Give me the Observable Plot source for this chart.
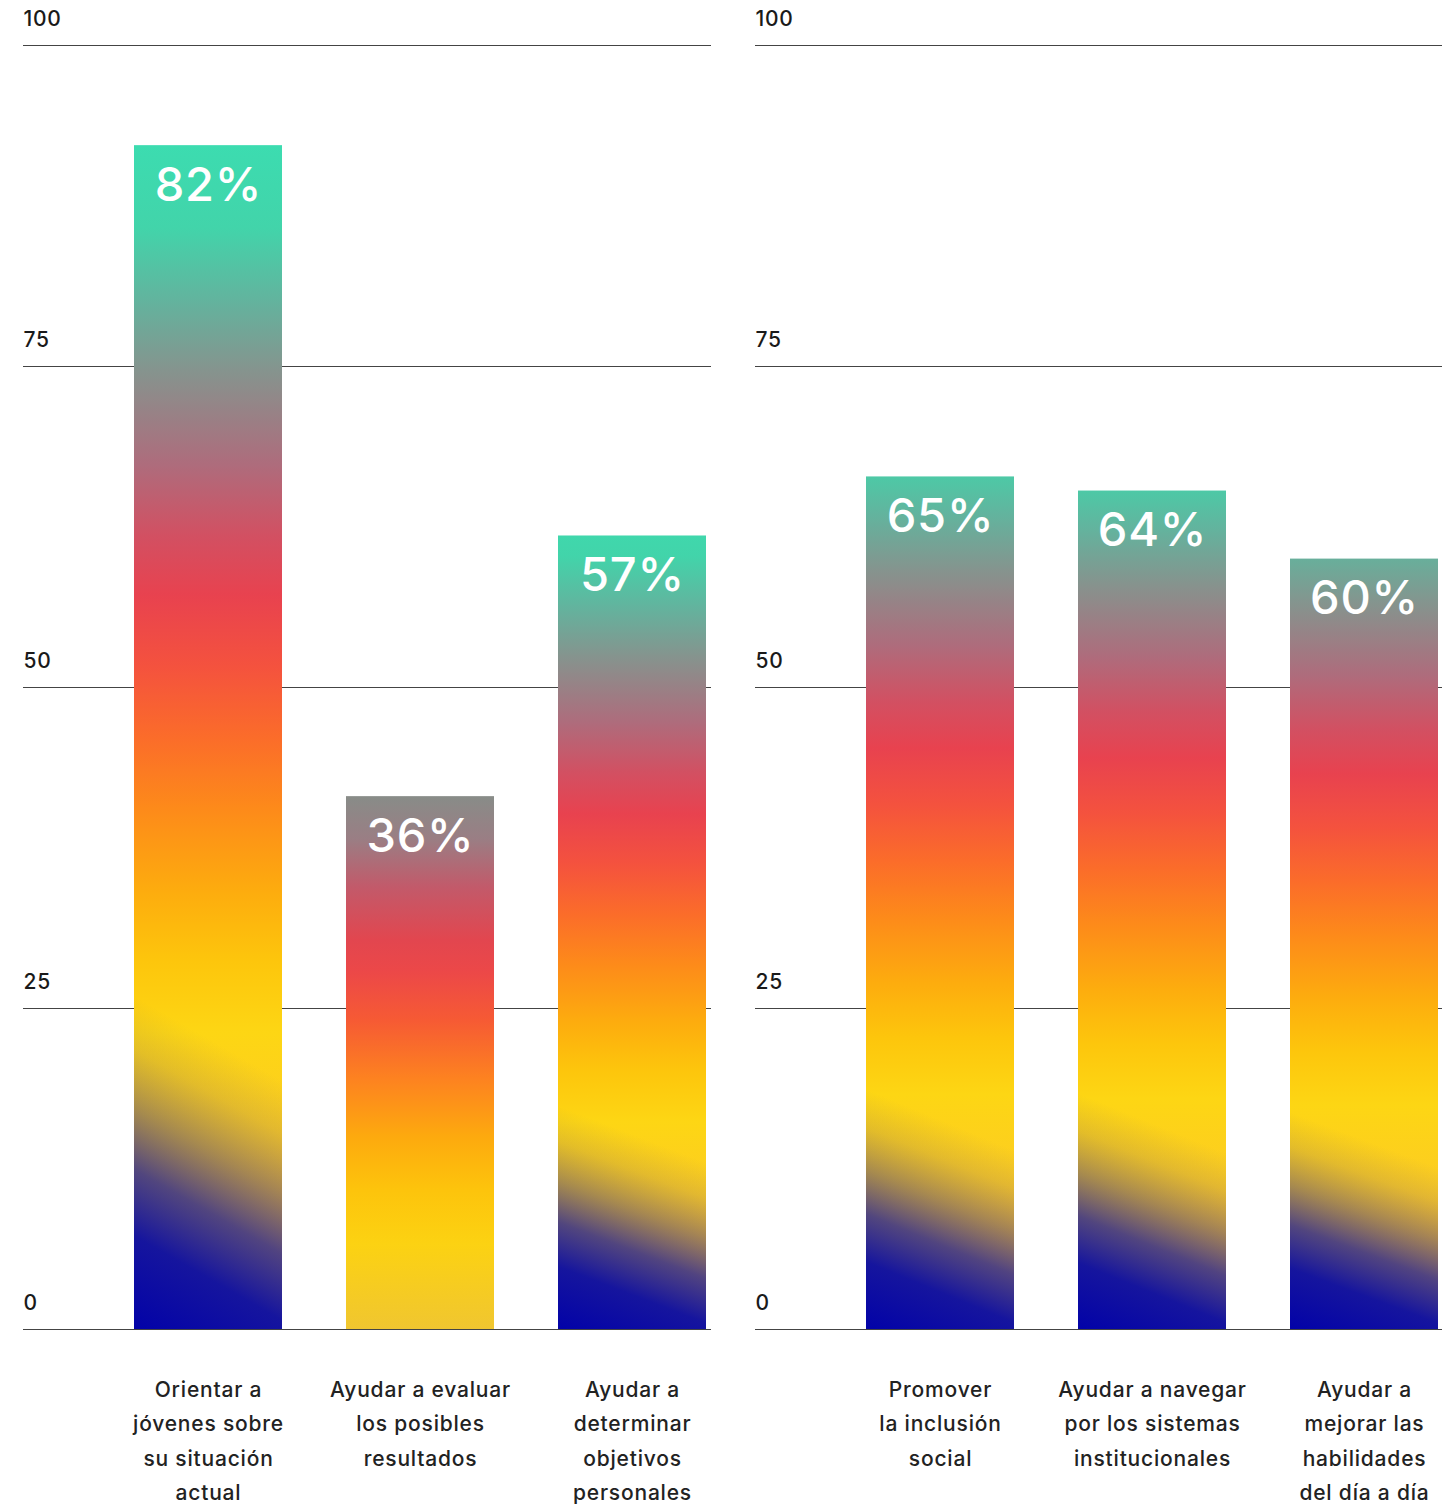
<!DOCTYPE html>
<html>
<head>
<meta charset="utf-8">
<script src="https://cdn.jsdelivr.net/npm/d3@7"></script>
<script src="https://cdn.jsdelivr.net/npm/@observablehq/plot@0.6"></script>
<style>
  html, body { margin: 0; padding: 0; background: #fff; }
  #chart { display: flex; width: 1455px; height: 1506px; overflow: hidden; }
  #chart svg { display: block; flex: none; }
  #chart svg text { letter-spacing: 0.8px; }
</style>
</head>
<body>
<div id="chart"></div>
<script>
// ---- data ----
const categoriesLeft = [
  "Orientar a\njóvenes sobre\nsu situación\nactual",
  "Ayudar a evaluar\nlos posibles\nresultados",
  "Ayudar a\ndeterminar\nobjetivos\npersonales"
];
const valuesLeft = [92.2, 41.5, 61.8];
const labelsLeft = ["82%", "36%", "57%"];

const categoriesRight = [
  "Promover\nla inclusión\nsocial",
  "Ayudar a navegar\npor los sistemas\ninstitucionales",
  "Ayudar a\nmejorar las\nhabilidades\ndel día a día"
];
const valuesRight = [66.4, 65.3, 60.0];
const labelsRight = ["65%", "64%", "60%"];

const yTicks = [0, 25, 50, 75, 100];

// ---- styles ----
const FONT = "Inter, 'Noto Sans', sans-serif";
const baseStops = [
  [0.00, "#3cdcb0"], [0.07, "#42d4aa"], [0.13, "#62b49e"], [0.19, "#85948e"],
  [0.27, "#ae6c7c"], [0.33, "#d25062"], [0.38, "#e8424f"], [0.44, "#f4523e"],
  [0.50, "#fb6c2a"], [0.56, "#fd8a1a"], [0.63, "#fdac0e"], [0.69, "#fdc60c"],
  [0.75, "#fdd614"], [0.84, "#fccc22"], [1.00, "#f8b040"]
];
const shortStops = [
  [0.00, "#888c88"], [0.08, "#9a7e84"], [0.17, "#c25a6a"], [0.27, "#e2464f"],
  [0.33, "#ec4848"], [0.42, "#f65a34"], [0.53, "#fd8220"], [0.64, "#fdaa0e"],
  [0.74, "#fdc40c"], [0.84, "#fcd212"], [1.00, "#f0c630"]
];
const blueStops = [
  [0.00, "#0202a8", 1], [0.28, "#0c0ea2", 0.96], [0.48, "#222296", 0.78],
  [0.66, "#3a3688", 0.45], [0.84, "#5a4c7c", 0.16], [1.00, "#6a5a74", 0]
];

function shiftedStops(s) {
  if (s <= 0) return baseStops;
  const out = [];
  for (let i = 0; i < baseStops.length - 1; i++) {
    const [o0, c0] = baseStops[i], [o1, c1] = baseStops[i + 1];
    if (s >= o0 && s < o1) out.push([0, d3.interpolateRgb(c0, c1)((s - o0) / (o1 - o0))]);
  }
  for (const [o, c] of baseStops) if (o > s) out.push([(o - s) / (1 - s), c]);
  return out;
}

const panels = [
  {key: "L", categories: categoriesLeft, values: valuesLeft, labels: labelsLeft,
   width: 732, marginRight: 21, shifts: [0, null, 0.045]},
  {key: "R", categories: categoriesRight, values: valuesRight, labels: labelsRight,
   width: 723, marginRight: 13, shifts: [0.09, 0.09, 0.14]}
];

const container = document.getElementById("chart");

for (const p of panels) {
  const rows = p.categories.map((c, i) => ({
    cat: c, value: p.values[i], label: p.labels[i], id: `${p.key}${i}`, blue: p.shifts[i] !== null
  }));

  const svg = Plot.plot({
    width: p.width,
    height: 1506,
    marginTop: 45,
    marginBottom: 177,
    marginLeft: 23,
    marginRight: p.marginRight,
    x: {domain: p.categories, range: [134, 706], paddingInner: 0.302, paddingOuter: 0, axis: null},
    y: {domain: [0, 100], axis: null},
    color: {type: "identity"},
    style: {fontFamily: FONT, background: "transparent", overflow: "visible"},
    marks: [
      Plot.ruleY(yTicks, {y: d => d, stroke: "#444", strokeWidth: 1}),
      Plot.text(yTicks, {y: d => d, text: d => String(d), frameAnchor: "left", textAnchor: "start",
        lineAnchor: "middle", dy: -26, fontSize: 21, fontWeight: 500, fill: "#1a1a1a"}),
      Plot.barY(rows, {x: "cat", y: "value", fill: d => `url(#grad-${d.id})`}),
      Plot.barY(rows.filter(d => d.blue), {x: "cat", y: "value", fill: () => `url(#blue-${p.key})`}),
      Plot.text(rows, {x: "cat", y: "value", text: "label", dy: 40, lineAnchor: "middle",
        fill: "#ffffff", fontSize: 47, fontWeight: 500}),
      Plot.text(rows, {x: "cat", text: "cat", frameAnchor: "bottom", lineAnchor: "top", dy: 43,
        fontSize: 21, lineHeight: 1.64, fontWeight: 500, fill: "#222"})
    ]
  });

  const defs = d3.select(svg).insert("defs", ":first-child");
  rows.forEach((r, i) => {
    const stops = p.shifts[i] === null ? shortStops : shiftedStops(p.shifts[i]);
    const g = defs.append("linearGradient").attr("id", `grad-${r.id}`)
      .attr("x1", 0).attr("y1", 0).attr("x2", 0).attr("y2", 1);
    for (const [o, c] of stops) g.append("stop").attr("offset", o).attr("stop-color", c);
  });
  const bg = defs.append("linearGradient").attr("id", `blue-${p.key}`)
    .attr("x1", 0).attr("y1", 1).attr("x2", 0.02).attr("y2", 0.72);
  for (const [o, c, a] of blueStops)
    bg.append("stop").attr("offset", o).attr("stop-color", c).attr("stop-opacity", a);

  container.appendChild(svg);
}
</script>
</body>
</html>
